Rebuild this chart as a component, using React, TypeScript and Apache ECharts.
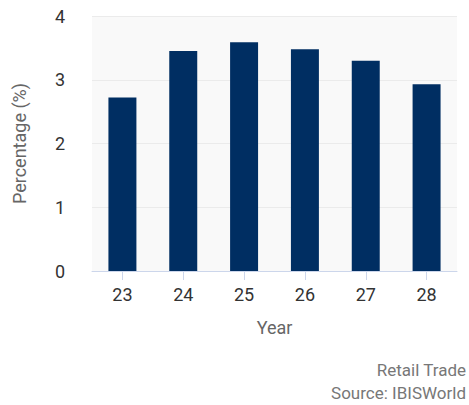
import React, { useEffect, useRef } from "react";
import * as echarts from "echarts";

const years = ["23", "24", "25", "26", "27", "28"];
const values = [2.72, 3.45, 3.59, 3.48, 3.3, 2.93];
const yTicks = [0, 1, 2, 3, 4];

export default function App() {
  const ref = useRef<HTMLDivElement>(null);
  useEffect(() => {
    const chart = echarts.init(ref.current!, null, { renderer: "svg" });
    chart.setOption({
      animation: false,
      textStyle: { fontFamily: "Roboto" },
      grid: {
        left: 92,
        right: 12,
        top: 16,
        bottom: 134,
        show: true,
        backgroundColor: "#f9f9f9",
        borderWidth: 0,
      },
      xAxis: {
        type: "category",
        data: years,
        name: "Year",
        nameLocation: "middle",
        nameGap: 47,
        nameTextStyle: { color: "#666666", fontSize: 18 },
        axisLine: { show: true, lineStyle: { color: "#ccd6eb", width: 1 } },
        axisTick: {
          show: true,
          alignWithLabel: true,
          length: 9,
          lineStyle: { color: "#ccd6eb" },
        },
        axisLabel: { color: "#333333", fontSize: 18, margin: 14 },
      },
      yAxis: {
        type: "value",
        min: yTicks[0],
        max: yTicks[yTicks.length - 1],
        interval: 1,
        name: "Percentage (%)",
        nameLocation: "middle",
        nameGap: 64,
        nameTextStyle: { color: "#666666", fontSize: 18 },
        axisLine: { show: false },
        axisTick: { show: false },
        axisLabel: { color: "#333333", fontSize: 18, margin: 27 },
        splitLine: { lineStyle: { color: "#ebebeb", width: 1 } },
      },
      series: [
        {
          type: "bar",
          data: values,
          barWidth: "46%",
          itemStyle: { color: "#002e62" },
        },
      ],
      graphic: [
        {
          type: "text",
          right: 3,
          top: 361,
          style: { text: "Retail Trade", fill: "#777777", fontSize: 17, fontFamily: "Roboto", textAlign: "right" },
        },
        {
          type: "text",
          right: 3,
          top: 384,
          style: { text: "Source: IBISWorld", fill: "#777777", fontSize: 17, fontFamily: "Roboto", textAlign: "right" },
        },
      ],
    });
    return () => chart.dispose();
  }, []);
  return <div ref={ref} style={{ width: 469, height: 405, position: "absolute", left: 0, top: 0 }} />;
}
